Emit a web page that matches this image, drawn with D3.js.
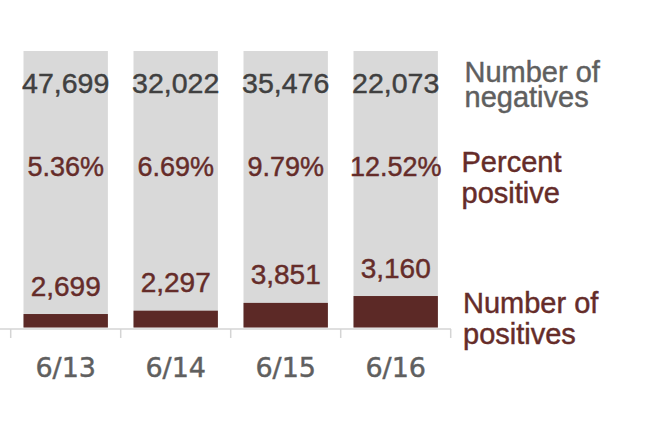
<!DOCTYPE html>
<html>
<head>
<meta charset="utf-8">
<script src="https://cdn.jsdelivr.net/npm/d3@7"></script>
<style>
  html, body { margin: 0; padding: 0; background: #fff; }
  svg { display: block; }
  text { stroke-width: 0.45px; paint-order: stroke; }
</style>
</head>
<body>
<svg id="chart" width="653" height="421"></svg>
<script>
// ---- data ----
const dates = ["6/13", "6/14", "6/15", "6/16"];
const negatives = [47699, 32022, 35476, 22073];
const positives = [2699, 2297, 3851, 3160];
const percentPositive = [5.36, 6.69, 9.79, 12.52];
const backdropValue = 110; // gray backdrop height, in percent units
const seriesLabels = [["Number of", "negatives"], ["Percent", "positive"], ["Number of", "positives"]];

// ---- layout ----
const svg = d3.select("#chart");
const colors = { gray: "#d9d9d9", red: "#5c2926", redText: "#652c29", darkText: "#404040", labelGray: "#5f5f5f", axis: "#d4d4d4", dateText: "#5f5f5f" };

const x = d3.scaleBand().domain(dates).range([10.7, 450.7]).paddingInner(0.233).paddingOuter(0.1165);
const y = d3.scaleLinear().domain([0, backdropValue]).range([327.5, 51]);

const data = dates.map((d, i) => ({ date: d, neg: negatives[i], pos: positives[i], pct: percentPositive[i] }));
const fmt = d3.format(",");

// backdrop
svg.selectAll("rect.bg").data(data).join("rect")
  .attr("class", "bg")
  .attr("x", d => x(d.date)).attr("width", x.bandwidth())
  .attr("y", y(backdropValue)).attr("height", y(0) - y(backdropValue))
  .attr("fill", colors.gray);

// positive bars
svg.selectAll("rect.pos").data(data).join("rect")
  .attr("class", "pos")
  .attr("x", d => x(d.date)).attr("width", x.bandwidth())
  .attr("y", d => y(d.pct)).attr("height", d => y(0) - y(d.pct))
  .attr("fill", colors.red);

// axis
const axisG = svg.append("g").attr("transform", "translate(0,329)");
axisG.append("line").attr("x1", 0).attr("x2", 451).attr("y1", 0).attr("y2", 0)
  .attr("stroke", colors.axis).attr("stroke-width", 1.5);
const boundaries = dates.map(d => x(d) - x.step() * x.paddingInner() / 2).concat([x(dates[dates.length - 1]) + x.bandwidth() + x.step() * x.paddingInner() / 2]);
axisG.selectAll("line.tick").data(boundaries).join("line")
  .attr("class", "tick")
  .attr("x1", d => d).attr("x2", d => d).attr("y1", 0).attr("y2", 9)
  .attr("stroke", colors.axis).attr("stroke-width", 1.5);

// date labels
svg.selectAll("text.date").data(data).join("text")
  .attr("class", "date")
  .attr("x", d => x(d.date) + x.bandwidth() / 2).attr("y", 376.5)
  .attr("text-anchor", "middle")
  .attr("font-family", "DejaVu Sans, sans-serif").attr("font-size", 27)
  .attr("fill", colors.dateText).attr("stroke", colors.dateText)
  .text(d => d.date);

// negatives numbers
svg.selectAll("text.neg").data(data).join("text")
  .attr("class", "neg")
  .attr("x", d => x(d.date) + x.bandwidth() / 2).attr("y", 92.7)
  .attr("text-anchor", "middle")
  .attr("font-family", "Liberation Sans, Arial, sans-serif").attr("font-size", 28.5)
  .attr("fill", colors.darkText).attr("stroke", colors.darkText)
  .text(d => fmt(d.neg));

// percent labels
svg.selectAll("text.pct").data(data).join("text")
  .attr("class", "pct")
  .attr("x", d => x(d.date) + x.bandwidth() / 2).attr("y", 175.5)
  .attr("text-anchor", "middle")
  .attr("font-family", "Liberation Sans, Arial, sans-serif").attr("font-size", 27)
  .attr("fill", colors.redText).attr("stroke", colors.redText)
  .text(d => d.pct.toFixed(2) + "%");

// positives numbers
svg.selectAll("text.posnum").data(data).join("text")
  .attr("class", "posnum")
  .attr("x", d => x(d.date) + x.bandwidth() / 2).attr("y", d => y(d.pct) - 18.5)
  .attr("text-anchor", "middle")
  .attr("font-family", "Liberation Sans, Arial, sans-serif").attr("font-size", 28)
  .attr("fill", colors.redText).attr("stroke", colors.redText)
  .text(d => fmt(d.pos));

// series labels on right
const labelSpecs = [
  { lines: seriesLabels[0], x: 464.5, y: 81.7, dy: 25.5, color: colors.labelGray },
  { lines: seriesLabels[1], x: 461.5, y: 171.7, dy: 31, color: colors.redText },
  { lines: seriesLabels[2], x: 463, y: 313.3, dy: 30.7, color: colors.redText }
];
labelSpecs.forEach(s => {
  const t = svg.append("text")
    .attr("font-family", "Liberation Sans, Arial, sans-serif").attr("font-size", 29)
    .attr("fill", s.color).attr("stroke", s.color);
  s.lines.forEach((ln, i) => {
    t.append("tspan").attr("x", s.x).attr("y", s.y + i * s.dy).text(ln);
  });
});
</script>
</body>
</html>
